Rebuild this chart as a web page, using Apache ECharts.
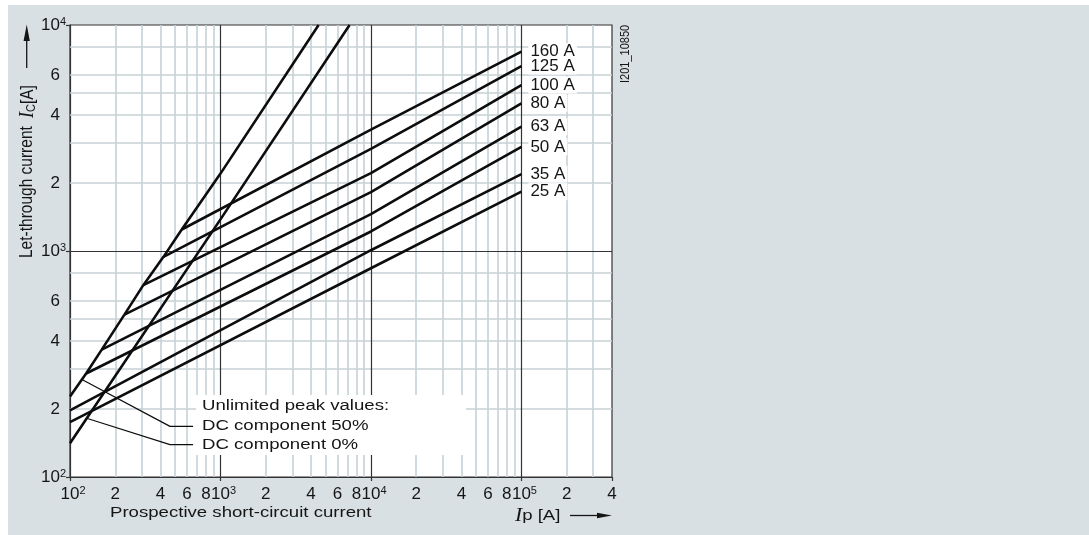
<!DOCTYPE html>
<html><head><meta charset="utf-8">
<script src="https://cdn.jsdelivr.net/npm/echarts@6/dist/echarts.min.js"></script>
<style>
html,body{margin:0;padding:0;background:#fff;}
#bg{position:absolute;left:8px;top:5px;width:1081px;height:530px;background:#d8e0e3;z-index:0;}
#c{position:absolute;left:0;top:0;width:1089px;height:535px;z-index:1;}
</style>
</head><body><div id="bg"></div><div id="c"></div>
<script>
// ---- tick labels ----
const xTickValues = [100,200,400,600,800,1000,2000,4000,6000,8000,10000,20000,40000,60000,80000,100000,200000,400000];
const xTickLabels = ['10^2','2','4','6','8','10^3','2','4','6','8','10^4','2','4','6','8','10^5','2','4'];
const yTickValues = [100,200,400,600,1000,2000,4000,6000,10000];
const yTickLabels = ['10^2','2','4','6','10^3','2','4','6','10^4'];
const xTickMarks = [100,1000,10000,100000,400000];
const yTickMarks = [100,1000,10000];
// ---- grid lines ----
const xMinorGrid = [200,300,400,500,600,700,800,900,2000,3000,4000,5000,6000,7000,8000,9000,20000,30000,40000,50000,60000,70000,80000,90000,200000,300000];
const xMajorGrid = [1000,10000,100000];
const yMinorGrid = [200,300,400,500,600,800,2000,3000,4000,5000,6000,8000];
const yMajorGrid = [1000];
// ---- fuse characteristics ----
const fuseNames  = ['160 A','125 A','100 A','80 A','63 A','50 A','35 A','25 A'];
const fuseStartX = [553,418,307,230,162.5,128,100,100];
const fuseStartY = [1245,942,706,523,366,287,197,175];
const fuseMidX = 10000;
const fuseMidY   = [3441,2833,2210,1821,1455,1220,1008,839];
const fuseEndX = 100000;
const fuseEndY   = [7620,6580,5420,4500,3550,2890,2190,1830];
// ---- unlimited peak values ----
const dc50X = [100,128,162.5,230,307,418,553,1000,4490];
const dc50Y = [227,287,366,523,706,942,1245,2200,10000];
const dc0X = [100,1000,7210];
const dc0Y = [141,1380,10000];
// ---- annotation leaders ----
const lead50X = [120,462,658];
const lead50Y = [270,167.5,167.5];
const lead0X = [129,462,658];
const lead0Y = [182,139,139];

const FONT = '"Liberation Sans", Arial, sans-serif';
const TXT = '#151515';
const LINE = '#0d0d0d';

function tickFmt(values, labels, isX) {
  return function (v) {
    const i = values.findIndex(t => Math.abs(t - v) / t < 1e-6);
    if (i < 0) return '';
    const s = labels[i];
    if (s.indexOf('^') >= 0) {
      const p = s.split('^');
      return isX ? '{h|' + p[1] + '}{n|' + p[0] + '}{s|' + p[1] + '}' : '{n|' + p[0] + '}{s|' + p[1] + '}';
    }
    return isX ? '{n|' + s + '}' : '{n|' + s + '}{h|0}';
  };
}
const richTick = {
  n: {fontSize: 17, fontFamily: FONT, color: TXT, lineHeight: 18},
  s: {fontSize: 11, fontFamily: FONT, color: TXT, verticalAlign: 'top', lineHeight: 11},
  h: {fontSize: 11, fontFamily: FONT, color: 'rgba(0,0,0,0)', lineHeight: 11}
};

const pts = (xs, ys) => xs.map((x, i) => [x, ys[i]]);

const series = [];
series.push({
  type: 'line', data: [], silent: true, z: 1,
  markLine: {silent: true, symbol: 'none', animation: false, label: {show: false}, z: 1,
    lineStyle: {color: '#c6d1d6', width: 1.6, type: 'solid'},
    emphasis: {disabled: true},
    data: xMinorGrid.map(v => ({xAxis: v})).concat(yMinorGrid.map(v => ({yAxis: v})))}
});
series.push({
  type: 'line', data: [], silent: true, z: 1,
  markLine: {silent: true, symbol: 'none', animation: false, label: {show: false}, z: 1.5,
    lineStyle: {color: '#333', width: 1.2, type: 'solid'},
    emphasis: {disabled: true},
    data: xMajorGrid.map(v => ({xAxis: v})).concat(yMajorGrid.map(v => ({yAxis: v})))}
});
fuseNames.forEach((name, i) => {
  series.push({
    type: 'line', name: name, symbol: 'none', z: 3, silent: true,
    data: [[fuseStartX[i], fuseStartY[i]], [fuseMidX, fuseMidY[i]], [fuseEndX, fuseEndY[i]]],
    lineStyle: {color: LINE, width: 2.6},
    endLabel: {show: true, formatter: '{a}', color: TXT, fontSize: 17, fontFamily: FONT,
      distance: 7, backgroundColor: '#fff', padding: [0, 2]}
  });
});
series.push({type: 'line', name: 'DC component 50%', symbol: 'none', z: 3, silent: true,
  data: pts(dc50X, dc50Y), lineStyle: {color: LINE, width: 2.6}});
series.push({type: 'line', name: 'DC component 0%', symbol: 'none', z: 3, silent: true,
  data: pts(dc0X, dc0Y), lineStyle: {color: LINE, width: 2.6}});
series.push({type: 'line', symbol: 'none', z: 4, silent: true,
  data: pts(lead50X, lead50Y), lineStyle: {color: LINE, width: 1.2}});
series.push({type: 'line', symbol: 'none', z: 4, silent: true,
  data: pts(lead0X, lead0Y), lineStyle: {color: LINE, width: 1.2}});

const hText = (x, y, text, extra) => Object.assign({
  type: 'text', x: x, y: y, scaleX: 1.2, z: 101,
  style: {text: text, fill: TXT, font: '15.5px ' + FONT, align: 'left', verticalAlign: 'middle'}
}, extra || {});

const graphic = [
  // white panel behind the annotation
  {type: 'rect', x: 196, y: 395, shape: {width: 270, height: 60}, style: {fill: '#fff'}, z: 100, silent: true},
  hText(202, 406, 'Unlimited peak values:'),
  hText(202, 425.5, 'DC component 50%'),
  hText(202, 444.5, 'DC component 0%'),
  // x axis title
  hText(110, 512.5, 'Prospective short-circuit current'),
  {type: 'text', x: 515, y: 516, scaleX: 1.2, z: 101,
    style: {text: '{i|I}{p|p}{n| [A]}', align: 'left', verticalAlign: 'middle', fill: TXT,
      rich: {i: {fontSize: 18, fontStyle: 'italic', fontFamily: '"Liberation Serif", serif', fill: TXT},
             p: {fontSize: 15.5, fontFamily: FONT, fill: TXT},
             n: {fontSize: 15.5, fontFamily: FONT, fill: TXT}}}},
  {type: 'line', shape: {x1: 570, y1: 515.5, x2: 600, y2: 515.5}, style: {stroke: TXT, lineWidth: 1.3}, z: 101},
  {type: 'polygon', shape: {points: [[612, 515.5], [597, 512.8], [597, 518.2]]}, style: {fill: TXT}, z: 101},
  // y axis title
  {type: 'text', x: 27, y: 258, rotation: Math.PI / 2, scaleY: 1.2, z: 101,
    style: {text: 'Let-through current', fill: TXT, font: '15.5px ' + FONT, align: 'left', verticalAlign: 'middle'}},
  {type: 'text', x: 27.5, y: 118, rotation: Math.PI / 2, scaleY: 1.2, z: 101,
    style: {text: '{i|I}{c|C}{n|[A]}', align: 'left', verticalAlign: 'middle', fill: TXT,
      rich: {i: {fontSize: 18, fontStyle: 'italic', fontFamily: '"Liberation Serif", serif', fill: TXT},
             c: {fontSize: 11, fontFamily: FONT, fill: TXT, verticalAlign: 'bottom'},
             n: {fontSize: 15.5, fontFamily: FONT, fill: TXT}}}},
  {type: 'line', shape: {x1: 26.7, y1: 68, x2: 26.7, y2: 36}, style: {stroke: TXT, lineWidth: 1.3}, z: 101},
  {type: 'polygon', shape: {points: [[26.7, 24.5], [23.6, 41], [29.8, 41]]}, style: {fill: TXT}, z: 101},
  // figure id
  {type: 'text', x: 626, y: 83, rotation: Math.PI / 2, scaleY: 1.15, z: 101,
    style: {text: 'I201_10850', fill: TXT, font: '11px ' + FONT, align: 'left', verticalAlign: 'middle'}}
];

const chart = echarts.init(document.getElementById('c'), null, {renderer: 'canvas'});
chart.setOption({
  animation: false,
  backgroundColor: 'transparent',
  grid: {left: 70, top: 25, width: 542, height: 452, show: true, backgroundColor: '#fff',
    borderColor: '#333', borderWidth: 1.2, containLabel: false},
  xAxis: {type: 'log', logBase: 10, min: 100, max: 400000,
    axisLine: {show: true, lineStyle: {color: '#333', width: 1.2}},
    axisTick: {show: true, customValues: xTickMarks, length: 4, inside: false, lineStyle: {color: '#333', width: 1.2}},
    splitLine: {show: false}, minorTick: {show: false}, minorSplitLine: {show: false},
    axisLabel: {show: true, customValues: xTickValues, formatter: tickFmt(xTickValues, xTickLabels, true),
      margin: 8, rich: richTick, hideOverlap: false, showMinLabel: true, showMaxLabel: true}},
  yAxis: {type: 'log', logBase: 10, min: 100, max: 10000,
    axisLine: {show: true, lineStyle: {color: '#333', width: 1.2}},
    axisTick: {show: true, customValues: yTickMarks, length: 4, inside: false, lineStyle: {color: '#333', width: 1.2}},
    splitLine: {show: false}, minorTick: {show: false}, minorSplitLine: {show: false},
    axisLabel: {show: true, customValues: yTickValues, formatter: tickFmt(yTickValues, yTickLabels, false),
      margin: 4, rich: richTick, hideOverlap: false, showMinLabel: true, showMaxLabel: true}},
  graphic: graphic,
  series: series
});
</script>
</body></html>
